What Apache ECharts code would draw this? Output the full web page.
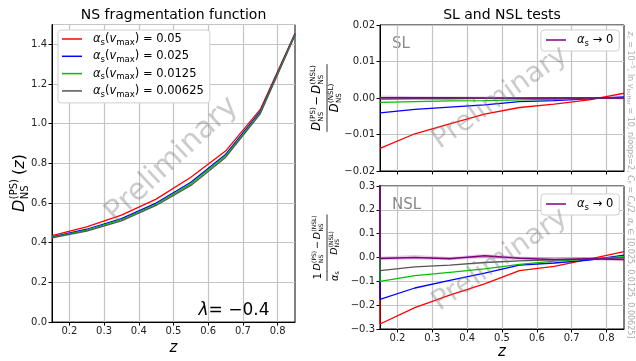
<!DOCTYPE html>
<html>
<head>
<meta charset="utf-8">
<script src="https://cdn.jsdelivr.net/npm/echarts@6/dist/echarts.min.js"></script>
<style>
  html, body { margin: 0; padding: 0; background: #fff; }
  #chart { width: 636px; height: 361px; }
</style>
</head>
<body>
<div id="chart"></div>
<script>
const FONT = 'DejaVu Sans';

const zs = [0.15, 0.25, 0.35, 0.45, 0.55, 0.65, 0.75, 0.85];
const alphaLabels = ['0.05', '0.025', '0.0125', '0.00625'];
const lineColors = ['#ff0000', '#0000ff', '#00c000', '#555555'];
const limitColor = '#800080';

// tick labels
const zTicks = [0.2, 0.3, 0.4, 0.5, 0.6, 0.7, 0.8];

// left panel, D_NS^(PS)(z)
const fragRed = [0.436, 0.480, 0.539, 0.620, 0.730, 0.862, 1.072, 1.456];
const fragBlue = [0.430, 0.468, 0.522, 0.600, 0.705, 0.845, 1.062, 1.452];
const fragGreen = [0.427, 0.463, 0.516, 0.594, 0.697, 0.838, 1.056, 1.449];
const fragGray = [0.424, 0.458, 0.510, 0.588, 0.689, 0.830, 1.050, 1.446];

// SL test
const slRed = [-0.0138, -0.0098, -0.0071, -0.0044, -0.0026, -0.0017, -0.0005, 0.0013];
const slBlue = [-0.0041, -0.0031, -0.0025, -0.0019, -0.0010, -0.0007, -0.0002, 0.0003];
const slGreen = [-0.0012, -0.0010, -0.0008, -0.0007, -0.0005, -0.0004, -0.0001, 0.0001];
const slGray = [-0.0003, -0.0002, -0.0002, -0.0001, -0.0001, 0.0000, 0.0000, 0.0000];
const slLimit = [0.0001, 0.0001, 0.0001, 0.0000, 0.0000, 0.0000, 0.0000, 0.0000];
const slLimitLow = [-0.0005, -0.0003, -0.0003, -0.0003, -0.0003, -0.0003, -0.0003, -0.0004];
const slLimitHigh = [0.0007, 0.0005, 0.0004, 0.0004, 0.0003, 0.0003, 0.0003, 0.0004];

// NSL test
const nslRed = [-0.279, -0.210, -0.158, -0.111, -0.055, -0.037, -0.007, 0.025];
const nslBlue = [-0.176, -0.128, -0.096, -0.066, -0.032, -0.023, -0.011, 0.010];
const nslGreen = [-0.100, -0.076, -0.062, -0.048, -0.029, -0.015, -0.007, 0.004];
const nslGray = [-0.055, -0.039, -0.032, -0.021, -0.014, -0.010, -0.007, -0.001];
const nslLimit = [-0.004, 0.000, -0.005, 0.007, -0.003, -0.008, -0.005, -0.008];
const nslLimitLow = [-0.012, -0.008, -0.012, -0.003, -0.010, -0.015, -0.012, -0.017];
const nslLimitHigh = [0.004, 0.011, 0.002, 0.015, 0.004, -0.001, 0.002, 0.001];
// the NSL curves come down from far off scale just left of z = 0.15
const nslEdgeZ = 0.05;
const nslEdge = [40, 40, 40, 40, 40];

const fragData = [fragRed, fragBlue, fragGreen, fragGray];
const slData = [slRed, slBlue, slGreen, slGray];
const nslData = [nslRed, nslBlue, nslGreen, nslGray];

const pairs = (xs, ys) => xs.map((x, i) => [x, ys[i]]);
const fmt = (d) => (v) => {
  if (Math.abs(v) < 1e-9) return (0).toFixed(d);
  return (v < 0 ? '\u2212' : '') + Math.abs(v).toFixed(d);
};

const line = (name, idx, data, color, width) => ({
  type: 'line', name, xAxisIndex: idx, yAxisIndex: idx, data,
  symbol: 'none', silent: true,
  lineStyle: {color, width: width || 1.3},
  itemStyle: {color},
  emphasis: {disabled: true}
});

// shaded uncertainty band of the alpha_s -> 0 curve
const band = (idx, lo, hi) => ({
  type: 'custom', xAxisIndex: idx, yAxisIndex: idx, silent: true,
  data: [[zs[0], lo[0]]],
  renderItem: (params, api) => {
    const top = zs.map((z, i) => api.coord([z, hi[i]]));
    const bot = zs.map((z, i) => api.coord([z, lo[i]])).reverse();
    return {type: 'polygon', shape: {points: top.concat(bot)},
      style: {fill: 'rgba(160,70,160,0.28)'}};
  }
});

const series = [];
fragData.forEach((d, k) => series.push(line(alphaLabels[k], 0, pairs(zs, d), lineColors[k])));
slData.forEach((d, k) => series.push(line(alphaLabels[k], 1, pairs(zs, d), lineColors[k])));
series.push(band(1, slLimitLow, slLimitHigh));
series.push(line('limit', 1, pairs(zs, slLimit), limitColor, 1.5));
nslData.forEach((d, k) => series.push(line(alphaLabels[k], 2, [[nslEdgeZ, nslEdge[k]], ...pairs(zs, d)], lineColors[k])));
series.push(band(2, nslLimitLow, nslLimitHigh));
series.push(line('limit', 2, [[nslEdgeZ, nslEdge[4]], ...pairs(zs, nslLimit)], limitColor, 1.5));

const grids = [
  {left: 52, top: 24.5, width: 243, height: 306.5},
  {left: 380, top: 25, width: 244, height: 146},
  {left: 380, top: 186, width: 244, height: 145}
].map(g => ({...g, show: true, borderColor: '#000', borderWidth: 1, backgroundColor: 'transparent'}));

const gridLine = {show: true, lineStyle: {color: '#c4c4c4', width: 1.2}};
const axisText = {fontFamily: FONT, fontSize: 10, color: '#222'};

const xAxis = [0, 1, 2].map(i => ({
  type: 'value', gridIndex: i, min: 0.15, max: 0.85,
  axisLine: {show: true, onZero: false, lineStyle: {color: '#000', width: 1}},
  axisTick: {show: true, inside: false, length: 3.5, customValues: zTicks, lineStyle: {color: '#000'}},
  axisLabel: {show: i !== 1, customValues: zTicks, formatter: fmt(1), margin: 4, ...axisText},
  splitLine: gridLine,
  name: i === 1 ? '' : 'z',
  nameLocation: 'middle', nameGap: 16,
  nameTextStyle: {fontFamily: FONT, fontSize: 15, fontStyle: 'italic', color: '#000', verticalAlign: 'top'}
}));

const yBase = {
  type: 'value',
  axisLine: {show: true, onZero: false, lineStyle: {color: '#000', width: 1}},
  axisTick: {show: true, inside: false, length: 3.5, lineStyle: {color: '#000'}},
  splitLine: gridLine
};
const yAxis = [
  {...yBase, gridIndex: 0, min: 0, max: 1.5, interval: 0.2,
    axisLabel: {formatter: fmt(1), margin: 5, showMaxLabel: false, ...axisText}},
  {...yBase, gridIndex: 1, min: -0.02, max: 0.02, interval: 0.01,
    axisLabel: {formatter: fmt(2), margin: 5, ...axisText}},
  {...yBase, gridIndex: 2, min: -0.3, max: 0.3, interval: 0.1,
    axisLabel: {formatter: fmt(1), margin: 5, ...axisText}}
];

const legendRich = {
  n: {fontFamily: FONT, fontSize: 11.5, lineHeight: 16, color: '#000'},
  i: {fontFamily: FONT, fontSize: 11.5, fontStyle: 'italic', lineHeight: 16, color: '#000'},
  s: {fontFamily: FONT, fontSize: 8.5, lineHeight: 8.5, verticalAlign: 'bottom', color: '#000'},
  sp: {width: 6}
};
const legendBox = {
  orient: 'vertical', backgroundColor: '#fff', borderColor: '#d0d0d0', borderWidth: 1,
  borderRadius: 3, icon: 'rect', itemWidth: 20, itemHeight: 1.5, selectedMode: false,
  textStyle: {rich: legendRich}
};
const legend = [
  {...legendBox, data: alphaLabels, left: 58, top: 30, itemGap: 3.3, padding: [3, 6, 4, 4],
    formatter: (name) => '{sp|}{i|\u03b1}{s|s}{n|(}{i|v}{s|max}{n|) = ' + name + '}'},
  {...legendBox, data: ['limit'], left: 541, top: 30, padding: [4, 6, 3, 5],
    formatter: () => '{sp|}{i|\u03b1}{s|s}{n| \u2192 0}'},
  {...legendBox, data: ['limit'], left: 541, top: 194, padding: [4, 6, 3, 5],
    formatter: () => '{sp|}{i|\u03b1}{s|s}{n| \u2192 0}'}
];

// D with stacked super/subscripts, laid out along local x
function dTerm(x, y, sup, sub, size) {
  const ss = size * 0.62;
  const dw = size * 0.8;
  const st = (font) => ({fill: '#000', font, align: 'left', verticalAlign: 'middle'});
  return [
    {type: 'text', x, y, style: {text: 'D', ...st('italic ' + size + 'px "' + FONT + '"')}},
    {type: 'text', x: x + dw, y: y - size * 0.36, style: {text: sup, ...st(ss + 'px "' + FONT + '"')}},
    {type: 'text', x: x + dw, y: y + size * 0.32, style: {text: sub, ...st(ss + 'px "' + FONT + '"')}}
  ];
}
function ratio(cx, num, den, size) {
  const ss = size * 0.62;
  const dw = size * 0.8;
  const wPS = ss * 2.0, wNSL = ss * 2.72, wMinus = size * 0.84;
  const numW = dw + wPS + 2 + wMinus + 2 + dw + wNSL;
  const x0 = cx - numW / 2;
  const els = [];
  els.push(...dTerm(x0, num, '(PS)', 'NS', size));
  els.push({type: 'text', x: x0 + dw + wPS + 2, y: num,
    style: {text: '\u2212', fill: '#000', font: size + 'px "' + FONT + '"', align: 'left', verticalAlign: 'middle'}});
  els.push(...dTerm(x0 + dw + wPS + 4 + wMinus, num, '(NSL)', 'NS', size));
  const denW = dw + wNSL;
  els.push(...dTerm(cx - denW / 2, den, '(NSL)', 'NS', size));
  els.push({type: 'line', shape: {x1: cx - numW / 2 - 1, y1: 0, x2: cx + numW / 2 + 1, y2: 0},
    style: {stroke: '#000', lineWidth: 0.8}});
  return els;
}

const watermark = (x, y, deg, size) => ({
  type: 'text', x, y, rotation: deg * Math.PI / 180, z: 100,
  style: {text: 'Preliminary', fill: 'rgba(120,120,120,0.38)', font: size + 'px "' + FONT + '"',
    align: 'center', verticalAlign: 'middle'}
});

const graphic = [
  {type: 'text', x: 173.5, y: 15, style: {text: 'NS fragmentation function', fill: '#000',
    font: '14px "' + FONT + '"', align: 'center', verticalAlign: 'middle'}},
  {type: 'text', x: 502, y: 15, style: {text: 'SL and NSL tests', fill: '#000',
    font: '14px "' + FONT + '"', align: 'center', verticalAlign: 'middle'}},
  {type: 'text', x: 392, y: 44, style: {text: 'SL', fill: '#888', font: '15px "' + FONT + '"', align: 'left', verticalAlign: 'middle'}},
  {type: 'text', x: 392, y: 205, style: {text: 'NSL', fill: '#888', font: '15px "' + FONT + '"', align: 'left', verticalAlign: 'middle'}},
  {type: 'text', x: 234, y: 311, z: 50, style: {
    text: '{i|\u03bb}{n|= \u22120.4}', align: 'center', verticalAlign: 'middle',
    rich: {
      i: {fontFamily: FONT, fontSize: 17, fontStyle: 'italic', fill: '#000'},
      n: {fontFamily: FONT, fontSize: 17, fill: '#000'}
    }}},
  watermark(172, 160, 43, 30),
  watermark(500, 98, 35, 28),
  watermark(500, 260, 35, 28),
  // left y label
  {type: 'group', x: 20, y: 212, rotation: Math.PI / 2, children: [
    ...dTerm(0, 0, '(PS)', 'NS', 16),
    {type: 'text', x: 37, y: 0, style: {text: '{n|(}{i|z}{n|)}', align: 'left', verticalAlign: 'middle',
      rich: {
        n: {fontFamily: FONT, fontSize: 16, fill: '#000'},
        i: {fontFamily: FONT, fontSize: 16, fontStyle: 'italic', fill: '#000'}
      }}}
  ]},
  // SL y label
  {type: 'group', x: 327, y: 98, rotation: Math.PI / 2, children: ratio(0, -10, 8, 11.5)},
  // NSL y label
  {type: 'group', x: 327, y: 250, rotation: Math.PI / 2, children: [
    ...ratio(7, -9, 7.5, 9.5),
    {type: 'text', x: -26, y: -9, style: {text: '1', fill: '#000', font: '10px "' + FONT + '"', align: 'center', verticalAlign: 'middle'}},
    {type: 'text', x: -26, y: 8, style: {text: '{i|\u03b1}{s|s}', align: 'center', verticalAlign: 'middle',
      rich: {
        i: {fontFamily: FONT, fontSize: 10, fontStyle: 'italic', fill: '#000', lineHeight: 12},
        s: {fontFamily: FONT, fontSize: 6.5, fill: '#000', lineHeight: 6.5, verticalAlign: 'bottom'}
      }}},
    {type: 'line', shape: {x1: -31, y1: 0, x2: -21, y2: 0}, style: {stroke: '#000', lineWidth: 0.8}}
  ]},
  // run settings note
  {type: 'text', x: 630, y: 185, rotation: -Math.PI / 2, style: {
    text: '{i|z}{s|c}{n| = 10}{p|\u22125}{n|, ln }{i|v}{s|buffer}{n| = 10, nloops=2, }{i|C}{s|F}{n| = }{i|C}{s|A}{n|/2, }{i|\u03b1}{s|s}{n| \u2208 [0.025, 0.0125, 0.00625]}',
    align: 'center', verticalAlign: 'middle',
    rich: {
      n: {fontFamily: FONT, fontSize: 8, fill: '#aaa', lineHeight: 10},
      i: {fontFamily: FONT, fontSize: 8, fontStyle: 'italic', fill: '#aaa', lineHeight: 10},
      s: {fontFamily: FONT, fontSize: 5.5, fill: '#aaa', lineHeight: 5.5, verticalAlign: 'bottom'},
      p: {fontFamily: FONT, fontSize: 5.5, fill: '#aaa', lineHeight: 5.5, verticalAlign: 'top'}
    }}}
];

const chart = echarts.init(document.getElementById('chart'), null, {renderer: 'canvas'});
chart.setOption({
  animation: false,
  backgroundColor: '#fff',
  grid: grids,
  xAxis,
  yAxis,
  legend,
  series,
  graphic
});
</script>
</body>
</html>
